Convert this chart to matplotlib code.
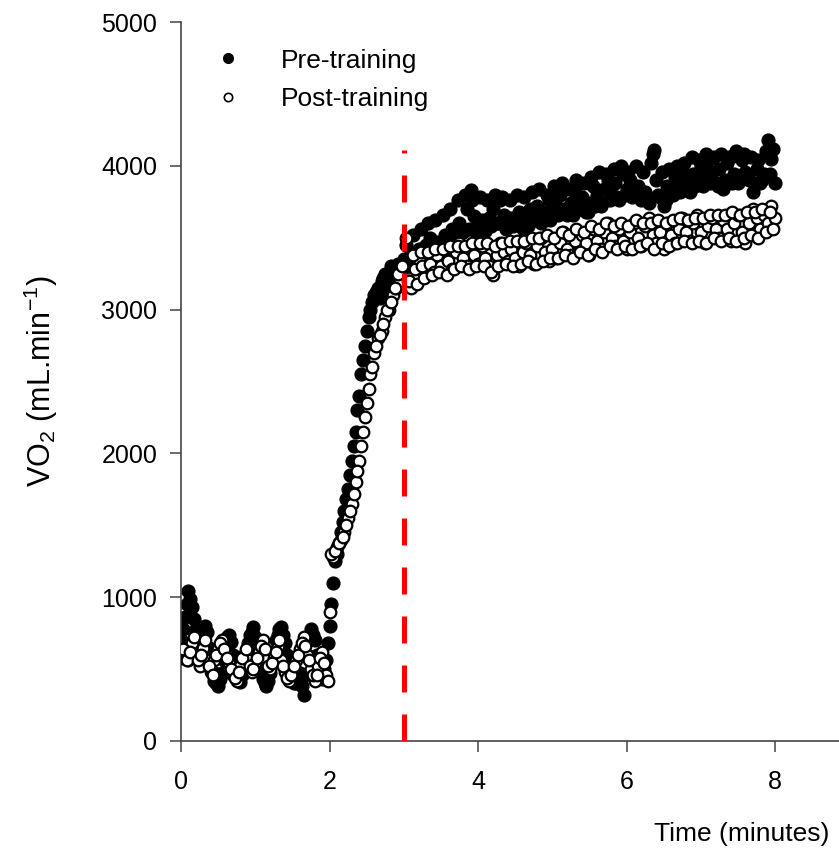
import numpy as np
import matplotlib.pyplot as plt
from matplotlib.lines import Line2D

plt.rcParams['font.family'] = ['Liberation Sans', 'DejaVu Sans']
plt.rcParams['mathtext.default'] = 'regular'

# tempo (minuti), primo gruppo di respiri
time_a = [0.00, 0.05, 0.10, 0.15, 0.20, 0.25, 0.30, 0.35, 0.40, 0.45,
          0.50, 0.55, 0.60, 0.65, 0.70, 0.75, 0.80, 0.85, 0.90, 0.95,
          1.00, 1.05, 1.10, 1.15, 1.20, 1.25, 1.30, 1.35, 1.40, 1.45,
          1.50, 1.55, 1.60, 1.65, 1.70, 1.75, 1.80, 1.85, 1.90, 1.95,
          2.00, 2.05, 2.10, 2.15, 2.20, 2.25, 2.30, 2.35, 2.40, 2.45,
          2.50, 2.55, 2.60, 2.65, 2.70, 2.75, 2.80, 2.85, 2.90, 2.95,
          3.00, 3.05, 3.10, 3.15, 3.20, 3.25, 3.30, 3.35, 3.40, 3.45,
          3.50, 3.55, 3.60, 3.65, 3.70, 3.75, 3.80, 3.85, 3.90, 3.95,
          4.00, 4.05, 4.10, 4.15, 4.20, 4.25, 4.30, 4.35, 4.40, 4.45,
          4.50, 4.55, 4.60, 4.65, 4.70, 4.75, 4.80, 4.85, 4.90, 4.95,
          5.00, 5.05, 5.10, 5.15, 5.20, 5.25, 5.30, 5.35, 5.40, 5.45,
          5.50, 5.55, 5.60, 5.65, 5.70, 5.75, 5.80, 5.85, 5.90, 5.95,
          6.00, 6.05, 6.10, 6.15, 6.20, 6.25, 6.30, 6.35, 6.40, 6.45,
          6.50, 6.55, 6.60, 6.65, 6.70, 6.75, 6.80, 6.85, 6.90, 6.95,
          7.00, 7.05, 7.10, 7.15, 7.20, 7.25, 7.30, 7.35, 7.40, 7.45,
          7.50, 7.55, 7.60, 7.65, 7.70, 7.75, 7.80, 7.85, 7.90, 7.95,
          8.00]

# secondo gruppo di respiri (intercalati)
time_b = [0.025, 0.075, 0.125, 0.175, 0.225, 0.275, 0.325, 0.375, 0.425, 0.475,
          0.525, 0.575, 0.625, 0.675, 0.725, 0.775, 0.825, 0.875, 0.925, 0.975,
          1.025, 1.075, 1.125, 1.175, 1.225, 1.275, 1.325, 1.375, 1.425, 1.475,
          1.525, 1.575, 1.625, 1.675, 1.725, 1.775, 1.825, 1.875, 1.925, 1.975,
          2.025, 2.075, 2.125, 2.175, 2.225, 2.275, 2.325, 2.375, 2.425, 2.475,
          2.525, 2.575, 2.625, 2.675, 2.725, 2.775, 2.825, 2.875, 2.925, 2.975,
          3.025, 3.075, 3.125, 3.175, 3.225, 3.275, 3.325, 3.375, 3.425, 3.475,
          3.525, 3.575, 3.625, 3.675, 3.725, 3.775, 3.825, 3.875, 3.925, 3.975,
          4.025, 4.075, 4.125, 4.175, 4.225, 4.275, 4.325, 4.375, 4.425, 4.475,
          4.525, 4.575, 4.625, 4.675, 4.725, 4.775, 4.825, 4.875, 4.925, 4.975,
          5.025, 5.075, 5.125, 5.175, 5.225, 5.275, 5.325, 5.375, 5.425, 5.475,
          5.525, 5.575, 5.625, 5.675, 5.725, 5.775, 5.825, 5.875, 5.925, 5.975,
          6.025, 6.075, 6.125, 6.175, 6.225, 6.275, 6.325, 6.375, 6.425, 6.475,
          6.525, 6.575, 6.625, 6.675, 6.725, 6.775, 6.825, 6.875, 6.925, 6.975,
          7.025, 7.075, 7.125, 7.175, 7.225, 7.275, 7.325, 7.375, 7.425, 7.475,
          7.525, 7.575, 7.625, 7.675, 7.725, 7.775, 7.825, 7.875, 7.925, 7.975]

# VO2 pre-training (mL/min)
pre_a = [700, 860, 1040, 930, 780, 650, 720, 760, 560, 420,
         380, 470, 640, 740, 600, 470, 410, 520, 680, 760,
         720, 560, 430, 380, 470, 620, 740, 790, 680, 520,
         420, 400, 470, 320, 600, 780, 700, 520, 430, 560,
         800, 1100, 1300, 1450, 1600, 1750, 1950, 2150, 2400, 2650,
         2850, 3000, 3100, 3150, 3200, 3250, 3180, 3280, 3230, 3300,
         3350, 3300, 3380, 3330, 3420, 3360, 3450, 3500, 3400, 3470,
         3380, 3520, 3460, 3560, 3480, 3600, 3540, 3700, 3830, 3650,
         3580, 3620, 3550, 3640, 3700, 3600, 3760, 3660, 3580, 3640,
         3600, 3680, 3560, 3620, 3700, 3640, 3720, 3600, 3680, 3760,
         3650, 3720, 3800, 3700, 3660, 3740, 3820, 3720, 3780, 3680,
         3740, 3860, 3800, 3720, 3840, 3900, 3800, 3880, 3760, 3940,
         3840, 3900, 3800, 3860, 3760, 3820, 3740, 4080, 3900, 3780,
         3720, 3860, 3800, 3920, 3860, 3960, 3880, 3820, 3940, 3880,
         4000, 3920, 4040, 3960, 3880, 3980, 3840, 4020, 4060, 3940,
         3880, 4040, 3960, 3900, 3820, 3980, 3880, 3940, 4180, 4050,
         3880]

pre_b = [780, 950, 990, 850, 700, 680, 800, 650, 480, 400,
         430, 560, 720, 690, 520, 430, 460, 600, 740, 790,
         640, 480, 400, 420, 540, 700, 780, 740, 600, 460,
         400, 440, 380, 460, 700, 740, 600, 460, 500, 680,
         950, 1250, 1380, 1520, 1680, 1850, 2050, 2300, 2550, 2750,
         2950, 3050, 3120, 3080, 3220, 3150, 3300, 3220, 3320, 3280,
         3450, 3300, 3520, 3350, 3560, 3400, 3600, 3420, 3620, 3460,
         3660, 3460, 3700, 3500, 3760, 3540, 3800, 3560, 3760, 3540,
         3780, 3560, 3760, 3580, 3800, 3600, 3780, 3560, 3760, 3580,
         3800, 3600, 3780, 3580, 3820, 3620, 3840, 3640, 3800, 3620,
         3860, 3660, 3880, 3680, 3840, 3660, 3900, 3700, 3880, 3680,
         3920, 3720, 3960, 3740, 3940, 3760, 3980, 3780, 4000, 3800,
         3960, 3780, 4000, 3800, 3960, 3760, 4020, 4110, 3800, 3960,
         3760, 3980, 3800, 4000, 3820, 4020, 3840, 4060, 3860, 4040,
         3860, 4080, 3880, 4060, 3860, 4080, 3900, 4060, 3880, 4100,
         3900, 4080, 3920, 4060, 3880, 4040, 3900, 4100, 3940, 4120]

# VO2 post-training (mL/min)
post_a = [580, 620, 560, 680, 600, 520, 650, 560, 480, 560,
          640, 700, 620, 540, 460, 420, 520, 600, 560, 480,
          540, 620, 700, 560, 500, 580, 660, 560, 480, 420,
          460, 560, 640, 720, 600, 500, 420, 520, 620, 460,
          900, 1280, 1350, 1400, 1450, 1550, 1650, 1800, 1950, 2150,
          2350, 2550, 2700, 2800, 2850, 2950, 3000, 3100, 3150, 3200,
          3300, 3200, 3150, 3280, 3350, 3300, 3400, 3320, 3260, 3380,
          3300, 3420, 3340, 3280, 3400, 3460, 3360, 3300, 3420, 3380,
          3320, 3440, 3360, 3300, 3240, 3380, 3460, 3400, 3340, 3420,
          3360, 3300, 3400, 3460, 3380, 3320, 3440, 3500, 3400, 3340,
          3420, 3360, 3460, 3540, 3420, 3380, 3480, 3400, 3520, 3460,
          3380, 3560, 3480, 3420, 3540, 3600, 3500, 3440, 3560, 3480,
          3420, 3540, 3600, 3500, 3440, 3580, 3640, 3520, 3460, 3540,
          3420, 3600, 3520, 3460, 3560, 3640, 3540, 3480, 3600, 3660,
          3540, 3460, 3580, 3640, 3560, 3500, 3620, 3560, 3480, 3600,
          3660, 3540, 3460, 3600, 3700, 3640, 3560, 3660, 3600, 3720,
          3640]

post_b = [640, 560, 620, 720, 560, 600, 700, 520, 460, 600,
          680, 640, 580, 500, 440, 480, 580, 640, 520, 500,
          580, 660, 640, 520, 540, 620, 700, 520, 440, 460,
          520, 600, 680, 660, 560, 460, 460, 580, 540, 420,
          1300, 1320, 1380, 1420, 1500, 1600, 1720, 1880, 2050, 2250,
          2450, 2600, 2750, 2820, 2900, 3000, 3050, 3150, 3250, 3300,
          3500, 3200, 3380, 3180, 3400, 3220, 3400, 3240, 3420, 3260,
          3420, 3240, 3440, 3280, 3440, 3300, 3440, 3280, 3460, 3300,
          3460, 3300, 3460, 3260, 3440, 3300, 3460, 3320, 3480, 3300,
          3480, 3320, 3480, 3340, 3500, 3320, 3500, 3340, 3520, 3360,
          3500, 3360, 3540, 3380, 3520, 3360, 3560, 3400, 3540, 3380,
          3580, 3420, 3560, 3400, 3600, 3440, 3580, 3420, 3600, 3440,
          3580, 3420, 3620, 3440, 3600, 3460, 3600, 3420, 3620, 3460,
          3600, 3440, 3620, 3460, 3640, 3480, 3620, 3460, 3640, 3480,
          3640, 3460, 3660, 3500, 3660, 3480, 3660, 3500, 3680, 3480,
          3660, 3500, 3680, 3520, 3680, 3500, 3700, 3540, 3680, 3560]

t_onset = 3.0      # linea tratteggiata rossa
onset_top = 4110

fig = plt.figure(figsize=(8.39, 8.66), dpi=100)
ax = fig.add_axes((181/839, 1-741/866, 1-181/839, (741-22)/866))

t_all = time_a + time_b
ax.scatter(t_all, pre_a + pre_b, s=85, color='black', edgecolors='black',
           linewidths=1.0, zorder=2)
ax.scatter(t_all, post_a + post_b, s=70, facecolors='white', edgecolors='black',
           linewidths=1.6, zorder=3)

ax.plot([t_onset, t_onset], [0, onset_top], color='red', lw=3.6,
        linestyle=(0, (5.4, 4.4)), solid_capstyle='butt', zorder=4)

ax.set_xlim(0, 8.86)
ax.set_ylim(0, 5000)
ax.set_xticks([0, 2, 4, 6, 8])
ax.set_yticks([0, 1000, 2000, 3000, 4000, 5000])

for s in ['top', 'right']:
    ax.spines[s].set_visible(False)
for s in ['left', 'bottom']:
    ax.spines[s].set_linewidth(1.2)
    ax.spines[s].set_color('#444444')

ax.tick_params(direction='out', length=8, width=1.1, colors='#444444',
               labelcolor='black', labelsize=18, pad=9)
ax.tick_params(axis='x', pad=13)

ax.set_ylabel('VO$_2$ (mL.min$^{-1}$)', fontsize=22)
ax.yaxis.set_label_coords(-0.184, 0.5)
ax.set_xlabel('Time (minutes)', fontsize=19, ha='right')
ax.xaxis.set_label_coords(0.986, -0.113)

handles = [Line2D([], [], marker='o', ls='none', color='black', markersize=7),
           Line2D([], [], marker='o', ls='none', markerfacecolor='white',
                  markeredgecolor='black', markeredgewidth=1.2, markersize=6)]
ax.legend(handles, ['Pre-training', 'Post-training'], loc='upper left',
          bbox_to_anchor=(0.016, 0.996), frameon=False, fontsize=19,
          handletextpad=1.5, labelspacing=0.55, handlelength=1.0)

plt.savefig('out.png', dpi=100)
